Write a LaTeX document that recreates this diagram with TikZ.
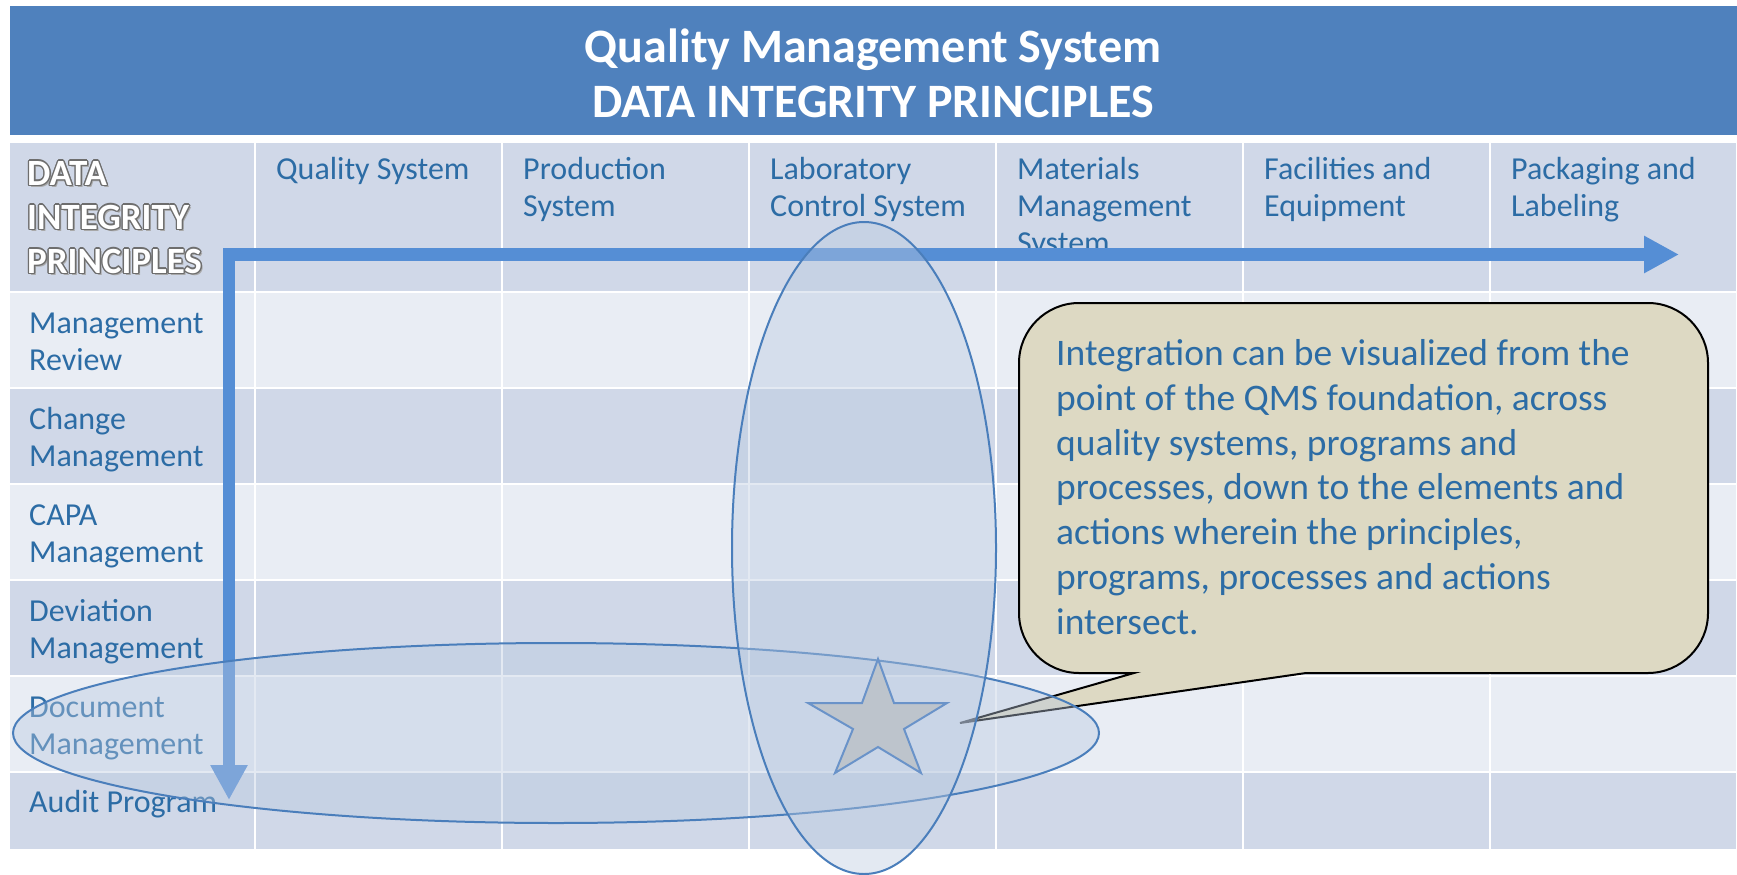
\documentclass[tikz,border=0pt]{standalone}
\usepackage{fontspec}
\setmainfont{Carlito}
\usetikzlibrary{arrows.meta}
\definecolor{band}{HTML}{4F81BD}
\definecolor{darkrow}{HTML}{D0D8E8}
\definecolor{lightrow}{HTML}{E9EDF4}
\definecolor{txtblue}{HTML}{2C6CA5}
\definecolor{arrowblue}{HTML}{558ED5}
\definecolor{notefill}{HTML}{DDD9C3}
\definecolor{ellline}{HTML}{4A7EBB}
\definecolor{ellfill}{HTML}{B9C9E0}
\definecolor{starfill}{HTML}{BCC3CA}
\definecolor{starline}{HTML}{6A93C9}
\definecolor{olgray}{HTML}{6E6E6E}
\definecolor{olshadow}{HTML}{A8A8A8}
\newcommand\outl[1]{\leavevmode
 \rlap{\kern2pt\raisebox{-2.5pt}{\color{olshadow}#1}}%
 \rlap{\kern1.4pt{\color{olgray}#1}}%
 \rlap{\kern-1.4pt{\color{olgray}#1}}%
 \rlap{\raisebox{1.4pt}{\color{olgray}#1}}%
 \rlap{\raisebox{-1.4pt}{\color{olgray}#1}}%
 \rlap{\kern1pt\raisebox{1pt}{\color{olgray}#1}}%
 \rlap{\kern-1pt\raisebox{1pt}{\color{olgray}#1}}%
 \rlap{\kern1pt\raisebox{-1pt}{\color{olgray}#1}}%
 \rlap{\kern-1pt\raisebox{-1pt}{\color{olgray}#1}}%
 {\color{white}#1}}
\tikzset{
  celltext/.style={anchor=base west, inner sep=0pt, align=left, text=txtblue,
    font=\fontsize{32}{37}\selectfont},
  titletext/.style={anchor=base, inner sep=0pt, text=white,
    font=\fontsize{48}{54}\selectfont\bfseries},
  ell/.style={draw=ellline, line width=2pt, fill=ellfill, fill opacity=0.4},
}
\begin{document}
\begin{tikzpicture}[x=1pt,y=-1pt]
\useasboundingbox (0,0) rectangle (1737,875);
\fill[white] (0,0) rectangle (1737,875);
% title band
\fill[band] (10,6) rectangle (1737,135);
\node[titletext] (title1) at (873,63) {Quality Management System};
\node[titletext] (title2) at (873,117) {DATA INTEGRITY PRINCIPLES};
% table rows
\fill[darkrow]  (10,143) rectangle (1736,291);
\fill[lightrow] (10,293) rectangle (1736,387);
\fill[darkrow]  (10,389) rectangle (1736,483);
\fill[lightrow] (10,485) rectangle (1736,579);
\fill[darkrow]  (10,581) rectangle (1736,675);
\fill[lightrow] (10,677) rectangle (1736,771);
\fill[darkrow]  (10,773) rectangle (1736,849);
\foreach \cx in {255,502,749,996,1243,1490}
  \draw[white, line width=2pt] (\cx,143) -- (\cx,849);
% header cells (anchor = baseline of the last line)
\node[anchor=base west, inner sep=0pt, align=left,
  font=\fontsize{37}{44}\selectfont\bfseries] (h1) at (27,273)
  {\outl{DATA}\\\outl{INTEGRITY}\\\outl{PRINCIPLES}};
\node[celltext] (h2) at (276,179) {Quality System};
\node[celltext] (h3) at (523,216) {Production\\System};
\node[celltext] (h4) at (770,216) {Laboratory\\Control System};
\node[celltext] (h5) at (1017,253) {Materials\\Management\\System};
\node[celltext] (h6) at (1264,216) {Facilities and\\Equipment};
\node[celltext] (h7) at (1511,216) {Packaging and\\Labeling};
% row labels
\node[celltext] (r1) at (29,370) {Management\\Review};
\node[celltext] (r2) at (29,466) {Change\\Management};
\node[celltext] (r3) at (29,562) {CAPA\\Management};
\node[celltext] (r4) at (29,658) {Deviation\\Management};
\node[celltext] (r5) at (29,754) {Document\\Management};
\node[celltext] (r6) at (29,812) {Audit Program};
% arrows
\coordinate (corner) at (229,254.5);
\coordinate (htip) at (1679,254.5);
\coordinate (vtip) at (229,800);
\draw[arrowblue, line width=12.5pt,
  {Triangle[length=35pt,width=35pt]}-{Triangle[length=35pt,width=35pt]}]
  (vtip) -- (corner) -- (htip);
% callout
\filldraw[fill=notefill, draw=black, line width=2pt]
  (1134,673) -- (960,723) -- (1306,673) -- (1648,673)
  .. controls (1681,673) and (1708,646) .. (1708,613)
  -- (1708,363) .. controls (1708,330) and (1681,303) .. (1648,303)
  -- (1079,303) .. controls (1046,303) and (1019,330) .. (1019,363)
  -- (1019,613) .. controls (1019,646) and (1046,673) .. (1079,673)
  -- cycle;
\node[anchor=base west, inner sep=0pt, align=left, text=txtblue,
  font=\fontsize{37.5}{44.7}\selectfont] (note) at (1056,634)
  {Integration can be visualized from the\\
   point of the QMS foundation, across\\
   quality systems, programs and\\
   processes, down to the elements and\\
   actions wherein the principles,\\
   programs, processes and actions\\
   intersect.};
% ellipses
\draw[ell] (556,733) ellipse [x radius=543pt, y radius=90pt];
\draw[ell] (864,548) ellipse [x radius=132pt, y radius=326pt];
% star
\filldraw[fill=starfill, fill opacity=0.9, draw=starline, line width=2pt]
  (878,659) -- (894,703) -- (947,703) -- (904,729) -- (921,773)
  -- (878,747) -- (835,773) -- (853,729) -- (808,703) -- (862,703) -- cycle;
\end{tikzpicture}
\end{document}
